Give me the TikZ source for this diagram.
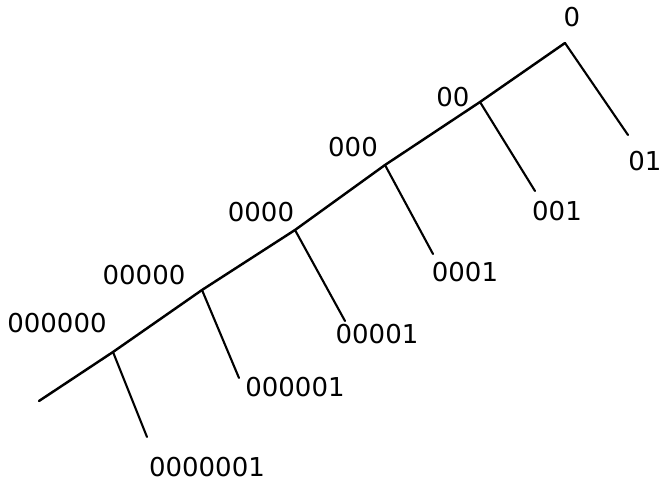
\documentclass[tikz,border=0pt]{standalone}
\usepackage{fontspec}
\setmainfont{DejaVu Sans}
\usetikzlibrary{positioning}

\begin{document}
\begin{tikzpicture}[
    x=0.02cm, y=-0.02cm,
    every node/.append style={font=\fontsize{14.8}{17}\selectfont},
  ]

  \tikzset{
    trunk/.style={draw=black, line width=1.4pt, line cap=round},
    twig/.style={draw=black, line width=1.2pt, line cap=round},
    code/.style={inner sep=0pt, text=black},
  }

  \useasboundingbox (0, 0) rectangle (664, 482);

  %% ---------------- JUNCTIONS ----------------
  \coordinate (j1) at (565, 43);
  \coordinate (j2) at (480, 102);
  \coordinate (j3) at (385, 165);
  \coordinate (j4) at (295, 230);
  \coordinate (j5) at (202, 290);
  \coordinate (j6) at (113, 352);
  \coordinate (tail) at (39, 401);

  % branch ends
  \coordinate (e1) at (628, 135);
  \coordinate (e2) at (535, 191);
  \coordinate (e3) at (433, 254);
  \coordinate (e4) at (345, 321);
  \coordinate (e5) at (239, 378);
  \coordinate (e6) at (147, 437);

  %% ---------------- LABELS ----------------
  \node[code] (n0) at (572, 17) {0};
  \node[code] (n00) at (453, 97) {00};
  \node[code] (n000) at (353, 147) {000};
  \node[code] (n0000) at (261, 212) {0000};
  \node[code] (n00000) at (144, 275) {00000};
  \node[code] (n000000) at (57, 323) {000000};

  \node[code] (n01) at (645, 161) {01};
  \node[code] (n001) at (557, 211) {001};
  \node[code] (n0001) at (465, 272) {0001};
  \node[code] (n00001) at (377, 334) {00001};
  \node[code] (n000001) at (295, 387) {000001};
  \node[code] (n0000001) at (207, 467) {0000001};

  %% ---------------- TREE ----------------
  % spine
  \draw[trunk] (j1) -- (j2) -- (j3) -- (j4) -- (j5) -- (j6) -- (tail);
  % side branches
  \draw[twig] (j1) -- (e1);
  \draw[twig] (j2) -- (e2);
  \draw[twig] (j3) -- (e3);
  \draw[twig] (j4) -- (e4);
  \draw[twig] (j5) -- (e5);
  \draw[twig] (j6) -- (e6);

\end{tikzpicture}
\end{document}
